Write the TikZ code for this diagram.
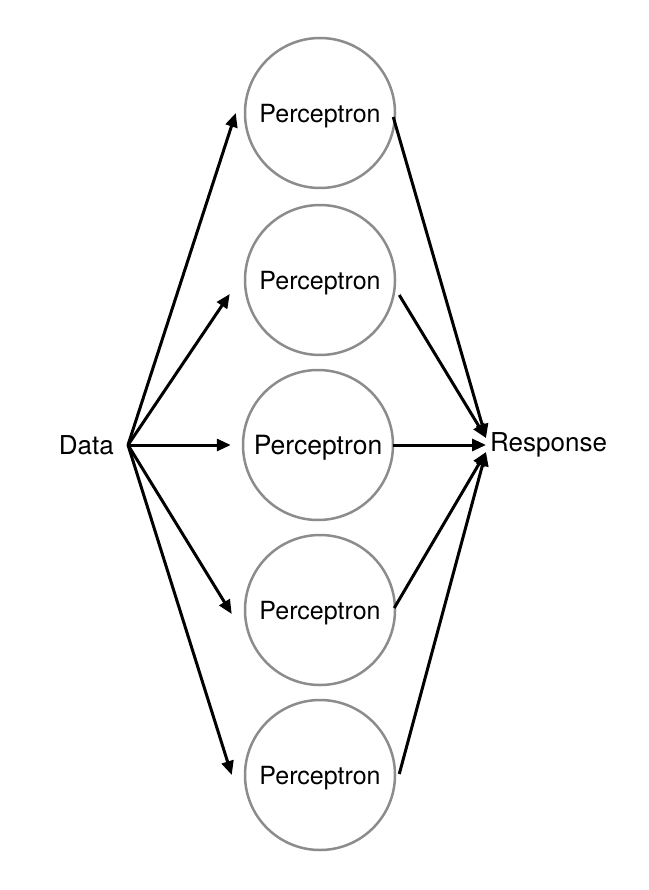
\documentclass[tikz,border=0pt]{standalone}
\usepackage{fontspec}
\setmainfont{TeX Gyre Heros}
\definecolor{CircleColor}{RGB}{140,140,140}
\usepackage{tikz}
\usetikzlibrary{arrows.meta}
\tikzstyle{unit} = [circle, draw=CircleColor, line width=2.5pt, minimum size=150pt, inner sep=0pt, text depth=0pt]
\tikzstyle{arrow} = [line width=3pt, -{Triangle[length=14pt,width=12pt]}]

\begin{document}
\begin{tikzpicture}[x=1pt, y=-1pt]
                \useasboundingbox (0,0) rectangle (648,890);

                \node[anchor=east, inner xsep=14pt, font=\fontsize{26}{30}\selectfont] (data) at (128,445) {Data};
                \node[anchor=west, inner xsep=4pt, font=\fontsize{26}{30}\selectfont] (response) at (486,445) {Response};

                \foreach \i/\x/\y/\fs in {1/320/113/25, 2/320/280/25, 3/318/445/26.5, 4/320/610/25, 5/320/775/25} {
                    \node[unit, font=\fontsize{\fs}{30}\selectfont] (p\i) at (\x,\y) {Perceptron};
                }

                \foreach \i/\lx/\ly in {1/-8/0, 2/-14/-14, 3/-11/0, 4/-12/-4, 5/-12/0} {
                    \draw[arrow] (data.east) -- ([xshift=\lx pt, yshift=\ly pt]p\i.west);
                }

                \foreach \i/\rx/\ry/\ey in {1/-3/-4/7, 2/3/-15/7, 3/-1/0/0, 4/-2/2/-7, 5/3/1/-7} {
                    \draw[arrow] ([xshift=\rx pt, yshift=\ry pt]p\i.east) -- ([yshift=\ey pt]response.west);
                }
            \end{tikzpicture}
\end{document}
